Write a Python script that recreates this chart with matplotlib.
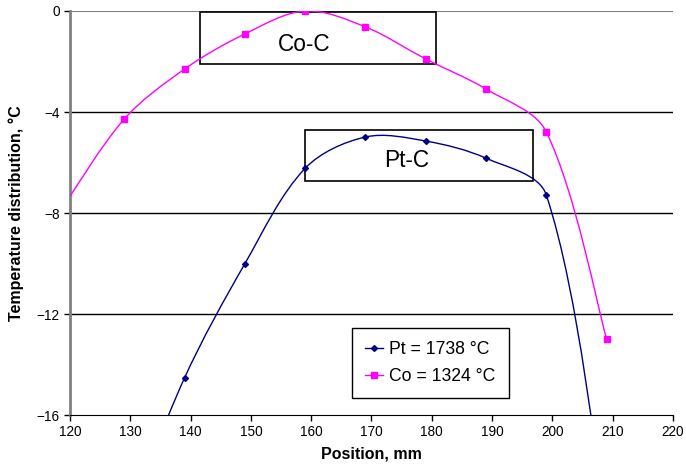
import matplotlib
matplotlib.use("Agg")
import matplotlib.pyplot as plt
from matplotlib.path import Path
from matplotlib.patches import PathPatch, Rectangle
from matplotlib.lines import Line2D
import numpy as np

plt.rcParams['font.family'] = ['Liberation Sans', 'DejaVu Sans']

# positions, mm
pt_pos = [129, 139, 149, 159, 169, 179, 189, 199, 209]
pt_temp = [-20.5, -14.53, -10.01, -6.23, -4.99, -5.15, -5.83, -7.29, -20.3]
co_pos = [119, 129, 139, 149, 159, 169, 179, 189, 199, 209]
co_temp = [-7.7, -4.28, -2.30, -0.91, 0.0, -0.63, -1.90, -3.09, -4.79, -12.99]

pt_label = "Pt = 1738 °C"
co_label = "Co = 1324 °C"
x_ticks = [120, 130, 140, 150, 160, 170, 180, 190, 200, 210, 220]
y_ticks = [0, -4, -8, -12, -16]


def smooth_path(ax, xs, ys):
    # excel style smoothed line, control points worked out in screen space
    p = ax.transData.transform(np.column_stack([xs, ys]))
    n = len(p)
    d = [np.hypot(*(p[i + 1] - p[i])) for i in range(n - 1)]
    c_out = []
    c_in = []
    for i in range(n):
        if i == 0:
            t = p[1] - p[0]
            c_out.append(p[0] + t / 6.0)
            c_in.append(p[0])
        elif i == n - 1:
            t = p[i] - p[i - 1]
            c_in.append(p[i] - t / 6.0)
            c_out.append(p[i])
        else:
            t = p[i + 1] - p[i - 1]
            w = d[i - 1] + d[i]
            c_in.append(p[i] - t * d[i - 1] / w / 3.0)
            c_out.append(p[i] + t * d[i] / w / 3.0)
    verts = [p[0]]
    codes = [Path.MOVETO]
    for i in range(n - 1):
        verts += [c_out[i], c_in[i + 1], p[i + 1]]
        codes += [Path.CURVE4] * 3
    verts = ax.transData.inverted().transform(np.array(verts))
    return Path(verts, codes)


fig = plt.figure(figsize=(6.86, 4.66), dpi=100)
ax = fig.add_axes([0.102, 0.1094, 0.879, 0.8670])
ax.set_xlim(120, 220)
ax.set_ylim(-16, 0)

pt_color = "#000080"
co_color = "#FF00FF"

ax.add_patch(PathPatch(smooth_path(ax, co_pos, co_temp), fill=False, edgecolor=co_color, lw=1.0, zorder=3))
ax.add_patch(PathPatch(smooth_path(ax, pt_pos, pt_temp), fill=False, edgecolor=pt_color, lw=1.0, zorder=3))
ax.plot(co_pos, co_temp, ls="none", marker="s", ms=4, color=co_color, zorder=4)
ax.plot(pt_pos, pt_temp, ls="none", marker="D", ms=3, color=pt_color, zorder=4)

# labelled boxes
ax.add_patch(Rectangle((141.6, -2.10), 39.1, 2.06, fill=False, edgecolor="black", lw=1.2, zorder=2))
ax.text(158.9, -1.58, "Co-C", fontsize=16.3, ha="center", va="baseline")
ax.add_patch(Rectangle((159.0, -6.73), 37.8, 2.02, fill=False, edgecolor="black", lw=1.2, zorder=2))
ax.text(175.8, -6.18, "Pt-C", fontsize=16.3, ha="center", va="baseline")

ax.set_xticks(x_ticks)
ax.set_yticks(y_ticks)
ax.tick_params(labelsize=9.8, length=4, width=1, colors="black")
for y in y_ticks[1:-1]:
    ax.axhline(y, color="black", lw=1.0, zorder=1)
ax.axhline(0, color="#808080", lw=1.5, zorder=1)

ax.spines["right"].set_visible(False)
ax.spines["top"].set_visible(False)
ax.spines["left"].set_color("#808080")
ax.spines["left"].set_linewidth(2)
ax.spines["bottom"].set_color("black")

ax.set_xlabel("Position, mm", fontsize=11.5, fontweight="bold", labelpad=5)
ax.set_ylabel("Temperature distribution, °C", fontsize=11.5, fontweight="bold", labelpad=9)

handles = [Line2D([], [], color=pt_color, marker="D", ms=3, lw=1),
           Line2D([], [], color=co_color, marker="s", ms=4, lw=1)]
leg = ax.legend(handles, [pt_label, co_label], loc="lower left", bbox_to_anchor=(0.468, 0.042),
                borderaxespad=0, fontsize=12.7, frameon=True, fancybox=False, edgecolor="black",
                framealpha=1, handlelength=1.0, handletextpad=0.35, labelspacing=0.55, borderpad=0.75)
leg.get_frame().set_linewidth(1.0)

fig.savefig("out.png", dpi=100)
